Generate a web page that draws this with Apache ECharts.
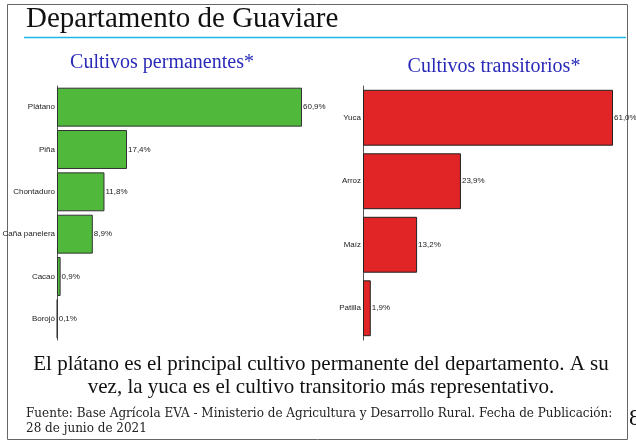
<!DOCTYPE html>
<html>
<head>
<meta charset="utf-8">
<script src="https://cdn.jsdelivr.net/npm/echarts@6/dist/echarts.min.js"></script>
<style>
  html, body { margin: 0; padding: 0; background: #fff; }
  #chart { width: 636px; height: 443px; }
</style>
</head>
<body>
<div id="chart"></div>
<script>
// cultivos permanentes (%)
var permCats = ['Plátano', 'Piña', 'Chontaduro', 'Caña panelera', 'Cacao', 'Borojó'];
var permVals = [60.9, 17.4, 11.8, 8.9, 0.9, 0.1];
// cultivos transitorios (%)
var tranCats = ['Yuca', 'Arroz', 'Maíz', 'Patilla'];
var tranVals = [61.0, 23.9, 13.2, 1.9];

var narrow = "'Liberation Sans Narrow', 'Arial Narrow', 'Liberation Sans', sans-serif";
var serif = "'Liberation Serif', 'DejaVu Serif', serif";

function pct(p) {
    return p.value.toFixed(1).replace('.', ',') + '%';
}

var chart = echarts.init(document.getElementById('chart'));
var option = {
    animation: false,
    grid: [
        { left: 57, top: 86, width: 245, height: 254, outerBoundsMode: 'none', containLabel: false },
        { left: 363, top: 86, width: 250, height: 254, outerBoundsMode: 'none', containLabel: false }
    ],
    xAxis: [
        { gridIndex: 0, type: 'value', min: 0, max: 60.9, show: false },
        { gridIndex: 1, type: 'value', min: 0, max: 61.0, show: false }
    ],
    yAxis: [
        {
            gridIndex: 0, type: 'category', data: permCats, inverse: true,
            axisTick: { show: false },
            axisLine: { lineStyle: { color: '#555', width: 1 } },
            axisLabel: { color: '#222', fontSize: 8, fontFamily: narrow, margin: 2 }
        },
        {
            gridIndex: 1, type: 'category', data: tranCats, inverse: true,
            axisTick: { show: false },
            axisLine: { lineStyle: { color: '#555', width: 1 } },
            axisLabel: { color: '#222', fontSize: 8, fontFamily: narrow, margin: 2 }
        }
    ],
    series: [
        {
            type: 'bar', xAxisIndex: 0, yAxisIndex: 0, data: permVals,
            barCategoryGap: '8%',
            itemStyle: { color: '#50b93c', borderColor: '#333', borderWidth: 1 },
            label: { show: true, position: 'right', distance: 1, formatter: pct,
                     color: '#222', fontSize: 8, fontFamily: narrow }
        },
        {
            type: 'bar', xAxisIndex: 1, yAxisIndex: 1, data: tranVals,
            barCategoryGap: '12%',
            itemStyle: { color: '#e12426', borderColor: '#222', borderWidth: 1 },
            label: { show: true, position: 'right', distance: 1, formatter: pct,
                     color: '#222', fontSize: 8, fontFamily: narrow }
        }
    ],
    graphic: [
        // marco
        { type: 'rect', shape: { x: 7.5, y: 4.5, width: 620, height: 435 },
          style: { fill: 'none', stroke: '#666', lineWidth: 1 } },
        { type: 'text', left: 26, top: 5,
          style: { text: 'Departamento de Guaviare', font: '29px ' + serif, fill: '#111' } },
        { type: 'line', shape: { x1: 24, y1: 37.5, x2: 626, y2: 37.5 },
          style: { stroke: '#1cb6ea', lineWidth: 1.5 } },
        { type: 'text', x: 162, y: 63,
          style: { text: 'Cultivos permanentes*', font: '20px ' + serif, fill: '#2a2ab8',
                   textAlign: 'center', textVerticalAlign: 'middle' } },
        { type: 'text', x: 494, y: 67,
          style: { text: 'Cultivos transitorios*', font: '20px ' + serif, fill: '#2a2ab8',
                   textAlign: 'center', textVerticalAlign: 'middle' } },
        { type: 'text', x: 321, y: 364,
          style: { text: 'El plátano es el principal cultivo permanente del departamento. A su',
                   font: '21px ' + serif, fill: '#111', textAlign: 'center', textVerticalAlign: 'middle' } },
        { type: 'text', x: 321, y: 387,
          style: { text: 'vez, la yuca es el cultivo transitorio más representativo.',
                   font: '21px ' + serif, fill: '#111', textAlign: 'center', textVerticalAlign: 'middle' } },
        { type: 'text', x: 26, y: 414,
          style: { text: 'Fuente: Base Agrícola EVA - Ministerio de Agricultura y Desarrollo Rural. Fecha de Publicación:',
                   font: "12px 'DejaVu Serif', serif", fill: '#222', textVerticalAlign: 'middle' } },
        { type: 'text', x: 26, y: 429,
          style: { text: '28 de junio de 2021',
                   font: "12px 'DejaVu Serif', serif", fill: '#222', textVerticalAlign: 'middle' } },
        { type: 'text', x: 629, y: 419,
          style: { text: '8', font: '24px ' + serif, fill: '#111', textVerticalAlign: 'middle' } }
    ]
};
chart.setOption(option);
</script>
</body>
</html>
